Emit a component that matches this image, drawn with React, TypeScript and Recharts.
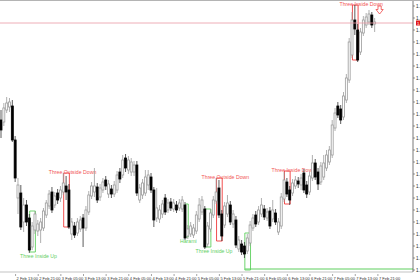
import React from 'react';
import { ComposedChart, Bar, XAxis, YAxis, ReferenceArea, ReferenceLine, ReferenceDot } from 'recharts';

// hourly quotes (oldest first)
const opens = [
  1.1180, 1.1178, 1.1190, 1.1193, 1.1194, 1.1160, 1.1102, 1.1107, 1.1078, 1.1095,
  1.1082, 1.1053, 1.1070, 1.1069, 1.1070, 1.1072, 1.1085, 1.1094, 1.1108, 1.1095,
  1.1107, 1.1102, 1.1108, 1.1114, 1.1110, 1.1066, 1.1074, 1.1067, 1.1071, 1.1082,
  1.1072, 1.1088, 1.1104, 1.1108, 1.1113, 1.1103, 1.1110, 1.1120, 1.1106, 1.1111,
  1.1106, 1.1110, 1.1128, 1.1125, 1.1142, 1.1130, 1.1128, 1.1128, 1.1135, 1.1100,
  1.1105, 1.1107, 1.1115, 1.1123, 1.1110, 1.1082, 1.1081, 1.1086, 1.1102, 1.1090,
  1.1098, 1.1091, 1.1095, 1.1092, 1.1091, 1.1095, 1.1064, 1.1066, 1.1065, 1.1069,
  1.1081, 1.1088, 1.1091, 1.1056, 1.1071, 1.1085, 1.1099, 1.1112, 1.1086, 1.1075,
  1.1086, 1.1095, 1.1076, 1.1080, 1.1051, 1.1056, 1.1054, 1.1049, 1.1057, 1.1072,
  1.1085, 1.1078, 1.1086, 1.1091, 1.1082, 1.1089, 1.1081, 1.1087, 1.1068, 1.1074,
  1.1101, 1.1118, 1.1110, 1.1107, 1.1114, 1.1119, 1.1115, 1.1127, 1.1115, 1.1108,
  1.1122, 1.1137, 1.1128, 1.1118, 1.1123, 1.1132, 1.1138, 1.1145, 1.1172, 1.1194,
  1.1191, 1.1183, 1.1200, 1.1220, 1.1245, 1.1280, 1.1270, 1.1248, 1.1267, 1.1275,
  1.1278, 1.1285, 1.1276,
];
const highs = [
  1.1190, 1.1197, 1.1203, 1.1202, 1.1200, 1.1164, 1.1122, 1.1115, 1.1102, 1.1100,
  1.1086, 1.1078, 1.1089, 1.1080, 1.1082, 1.1092, 1.1100, 1.1110, 1.1113, 1.1108,
  1.1111, 1.1114, 1.1127, 1.1124, 1.1116, 1.1082, 1.1078, 1.1082, 1.1084, 1.1086,
  1.1094, 1.1109, 1.1118, 1.1132, 1.1117, 1.1116, 1.1122, 1.1124, 1.1120, 1.1115,
  1.1119, 1.1129, 1.1132, 1.1145, 1.1146, 1.1144, 1.1142, 1.1139, 1.1139, 1.1116,
  1.1121, 1.1130, 1.1130, 1.1127, 1.1113, 1.1112, 1.1095, 1.1100, 1.1106, 1.1101,
  1.1102, 1.1101, 1.1099, 1.1101, 1.1104, 1.1098, 1.1075, 1.1078, 1.1076, 1.1089,
  1.1102, 1.1104, 1.1094, 1.1078, 1.1091, 1.1104, 1.1122, 1.1120, 1.1090, 1.1098,
  1.1105, 1.1099, 1.1090, 1.1084, 1.1064, 1.1060, 1.1058, 1.1066, 1.1079, 1.1086,
  1.1089, 1.1094, 1.1102, 1.1095, 1.1092, 1.1093, 1.1100, 1.1091, 1.1082, 1.1107,
  1.1128, 1.1122, 1.1114, 1.1121, 1.1124, 1.1123, 1.1126, 1.1131, 1.1119, 1.1128,
  1.1145, 1.1141, 1.1132, 1.1138, 1.1145, 1.1150, 1.1154, 1.1180, 1.1192, 1.1198,
  1.1195, 1.1208, 1.1226, 1.1262, 1.1288, 1.1295, 1.1276, 1.1272, 1.1284, 1.1287,
  1.1290, 1.1288, 1.1282,
];
const lows = [
  1.1162, 1.1174, 1.1187, 1.1188, 1.1158, 1.1118, 1.1086, 1.1070, 1.1068, 1.1074,
  1.1047, 1.1050, 1.1066, 1.1064, 1.1057, 1.1069, 1.1082, 1.1091, 1.1087, 1.1092,
  1.1096, 1.1098, 1.1105, 1.1100, 1.1071, 1.1060, 1.1062, 1.1064, 1.1068, 1.1053,
  1.1069, 1.1085, 1.1101, 1.1103, 1.1097, 1.1099, 1.1107, 1.1110, 1.1102, 1.1102,
  1.1103, 1.1107, 1.1117, 1.1122, 1.1128, 1.1126, 1.1124, 1.1124, 1.1104, 1.1097,
  1.1101, 1.1104, 1.1110, 1.1107, 1.1073, 1.1078, 1.1077, 1.1082, 1.1085, 1.1087,
  1.1089, 1.1088, 1.1087, 1.1089, 1.1088, 1.1060, 1.1061, 1.1063, 1.1062, 1.1066,
  1.1078, 1.1085, 1.1051, 1.1053, 1.1068, 1.1082, 1.1096, 1.1082, 1.1059, 1.1072,
  1.1083, 1.1075, 1.1072, 1.1052, 1.1048, 1.1045, 1.1042, 1.1046, 1.1054, 1.1069,
  1.1073, 1.1075, 1.1083, 1.1080, 1.1079, 1.1071, 1.1078, 1.1075, 1.1065, 1.1071,
  1.1098, 1.1103, 1.1095, 1.1104, 1.1111, 1.1112, 1.1110, 1.1107, 1.1102, 1.1105,
  1.1119, 1.1120, 1.1110, 1.1115, 1.1120, 1.1129, 1.1135, 1.1142, 1.1169, 1.1182,
  1.1176, 1.1180, 1.1197, 1.1217, 1.1242, 1.1265, 1.1238, 1.1245, 1.1264, 1.1272,
  1.1275, 1.1272, 1.1268,
];
const closes = [
  1.1170, 1.1192, 1.1197, 1.1198, 1.1160, 1.1122, 1.1115, 1.1073, 1.1095, 1.1078,
  1.1050, 1.1074, 1.1086, 1.1076, 1.1078, 1.1089, 1.1097, 1.1106, 1.1090, 1.1104,
  1.1100, 1.1110, 1.1117, 1.1108, 1.1073, 1.1078, 1.1065, 1.1078, 1.1080, 1.1072,
  1.1090, 1.1105, 1.1114, 1.1114, 1.1100, 1.1112, 1.1118, 1.1114, 1.1116, 1.1106,
  1.1115, 1.1125, 1.1121, 1.1140, 1.1132, 1.1140, 1.1138, 1.1135, 1.1107, 1.1112,
  1.1117, 1.1123, 1.1125, 1.1110, 1.1080, 1.1092, 1.1090, 1.1096, 1.1088, 1.1097,
  1.1092, 1.1097, 1.1090, 1.1097, 1.1100, 1.1062, 1.1071, 1.1074, 1.1072, 1.1085,
  1.1095, 1.1100, 1.1053, 1.1074, 1.1087, 1.1100, 1.1108, 1.1085, 1.1064, 1.1094,
  1.1097, 1.1078, 1.1086, 1.1055, 1.1060, 1.1048, 1.1046, 1.1062, 1.1075, 1.1082,
  1.1076, 1.1090, 1.1095, 1.1083, 1.1088, 1.1074, 1.1090, 1.1078, 1.1078, 1.1103,
  1.1120, 1.1106, 1.1100, 1.1117, 1.1120, 1.1116, 1.1122, 1.1110, 1.1106, 1.1124,
  1.1137, 1.1123, 1.1116, 1.1134, 1.1137, 1.1145, 1.1150, 1.1175, 1.1187, 1.1185,
  1.1180, 1.1204, 1.1222, 1.1258, 1.1280, 1.1271, 1.1240, 1.1268, 1.1280, 1.1283,
  1.1286, 1.1275, 1.1278,
];

const timeLabels = [
  '2 Feb 13:00', '2 Feb 21:00', '3 Feb 05:00', '3 Feb 13:00', '3 Feb 21:00', '4 Feb 05:00',
  '4 Feb 13:00', '4 Feb 21:00', '5 Feb 05:00', '5 Feb 13:00', '5 Feb 21:00', '6 Feb 05:00',
  '6 Feb 13:00', '6 Feb 21:00', '7 Feb 05:00', '7 Feb 13:00', '7 Feb 21:00',
];
const priceTicks = [
  1.1294, 1.1282, 1.1270, 1.1258, 1.1246, 1.1234, 1.1222, 1.1210, 1.1198, 1.1186, 1.1174, 1.1162,
  1.1150, 1.1138, 1.1126, 1.1114, 1.1102, 1.1090, 1.1078, 1.1066, 1.1054, 1.1042, 1.1030,
];
const bidPrice = 1.1277;

// candle patterns found by the indicator: first/last bar index and the box price range
const patterns = [
  { name: 'Three Inside Up', first: 10, last: 12, top: 1.1089, bottom: 1.1048, bullish: true },
  { name: 'Three Outside Down', first: 22, last: 24, top: 1.1127, bottom: 1.1073, bullish: false },
  { name: 'Harami', first: 65, last: 66, top: 1.1096, bottom: 1.1063, bullish: true },
  { name: 'Three Inside Up', first: 72, last: 74, top: 1.1091, bottom: 1.1053, bullish: true },
  { name: 'Three Outside Down', first: 76, last: 78, top: 1.1122, bottom: 1.1059, bullish: false },
  { name: '', first: 86, last: 88, top: 1.1067, bottom: 1.1030, bullish: true },
  { name: 'Three Inside Down', first: 100, last: 102, top: 1.1129, bottom: 1.1096, bullish: false },
  { name: 'Three Inside Down', first: 124, last: 126, top: 1.1295, bottom: 1.1240, bullish: false },
];

const X_MAX = 145.4;
const FONT = '"Liberation Sans", Arial, sans-serif';
const RED = '#ef3b3b';
const GREEN = '#5fcf5f';

const chartData = opens.map((o, i) => ({
  i,
  range: [lows[i], highs[i]],
  open: o,
  high: highs[i],
  low: lows[i],
  close: closes[i],
}));

const tickIdx = timeLabels.map((_, k) => 5 + k * 8);

const Candle = (props: any) => {
  const { x, y, width, height, payload } = props;
  if (x == null || !payload) return null;
  const top = Math.min(y, y + height);
  const h = Math.abs(height);
  const cx = x + width / 2;
  const { open, close, high, low } = payload;
  const k = h / (high - low);
  const yOf = (p: number) => top + (high - p) * k;
  const up = close >= open;
  const bTop = yOf(Math.max(open, close));
  const bBot = yOf(Math.min(open, close));
  const col = up ? '#9c9c9c' : '#000';
  return (
    <g>
      <line x1={cx} x2={cx} y1={top} y2={top + h} stroke={up ? '#9c9c9c' : '#333'} strokeWidth={0.8} />
      <rect x={cx - 1} y={bTop} width={2} height={Math.max(bBot - bTop, 0.7)} fill={up ? '#fff' : '#000'} stroke={col} strokeWidth={0.8} />
    </g>
  );
};

const TimeTick = (props: any) => {
  const { x, y, payload } = props;
  const k = tickIdx.indexOf(payload.value);
  if (k < 0) return <g />;
  return (
    <g>
      <line x1={x} x2={x} y1={y - 2} y2={y} stroke="#666" strokeWidth={0.6} />
      <text x={x + 1} y={y + 3.5} fontSize={4} fill="#333" fontFamily={FONT} textAnchor="start">
        {timeLabels[k]}
      </text>
    </g>
  );
};

const patternLabel = (p: typeof patterns[number]) => (lp: any) => {
  const vb = lp.viewBox;
  if (!vb || !p.name) return null;
  const cx = vb.x + vb.width / 2 + (p.name.length > 10 ? 6 : 1.5);
  const ty = p.bullish ? vb.y + vb.height + 6 : vb.y + 0.5;
  return (
    <text x={cx} y={ty} fontSize={5.2} fill={p.bullish ? GREEN : '#f25555'} fontFamily={FONT} textAnchor="middle">
      {p.name}
    </text>
  );
};

const bidLabel = (lp: any) => {
  const vb = lp.viewBox;
  if (!vb) return null;
  const x = vb.x + vb.width + 3;
  return (
    <g>
      <rect x={x} y={vb.y - 2.5} width={40} height={5} fill="#e01818" />
      <text x={x + 1} y={vb.y + 1.6} fontSize={4.2} fill="#fff" fontFamily={FONT}>
        {bidPrice.toFixed(5)}
      </text>
    </g>
  );
};

const Arrow = (props: any) => {
  const { cx, cy } = props;
  if (cx == null) return null;
  const d = `M${cx - 1.6},${cy - 4} h3.2 v3.5 h2 L${cx},${cy + 4} L${cx - 3.6},${cy - 0.5} h2 Z`;
  return <path d={d} fill="#fff" stroke="#f04848" strokeWidth={0.8} />;
};

export default function App() {
  return (
    <div style={{ position: 'absolute', left: 0, top: 0, width: 420, height: 280, overflow: 'hidden', background: '#fff' }}>
      <div style={{ height: 1, background: '#b4b4b4' }} />
      <ComposedChart width={460} height={279} data={chartData} margin={{ top: 0, right: 0, bottom: 0, left: 0 }}>
        <XAxis
          dataKey="i"
          type="number"
          domain={[-0.5, X_MAX]}
          allowDataOverflow
          ticks={tickIdx}
          interval={0}
          tick={<TimeTick />}
          tickLine={false}
          tickSize={2}
          height={8}
          axisLine={{ stroke: '#9a9a9a', strokeWidth: 0.6 }}
        />
        <YAxis
          orientation="right"
          type="number"
          domain={[1.1028, 1.1299]}
          allowDataOverflow
          ticks={priceTicks}
          interval={0}
          width={47}
          tickSize={2}
          tickMargin={1}
          tickFormatter={(v: number) => v.toFixed(5)}
          tick={{ fontSize: 4.5, fill: '#222', fontFamily: FONT }}
          tickLine={{ stroke: '#555', strokeWidth: 0.6 }}
          axisLine={{ stroke: '#555', strokeWidth: 0.8 }}
        />
        <ReferenceLine y={bidPrice} stroke="#ea9aa4" strokeWidth={0.8} label={bidLabel} />
        <Bar dataKey="range" barSize={2} shape={<Candle />} isAnimationActive={false} />
        {patterns.map((p, n) => (
          <ReferenceArea
            key={n}
            x1={p.first}
            x2={p.last}
            y1={p.bottom}
            y2={p.top}
            fill="none"
            fillOpacity={0}
            stroke={p.bullish ? GREEN : RED}
            strokeWidth={0.9}
            ifOverflow="visible"
            label={patternLabel(p)}
          />
        ))}
        <ReferenceLine
          segment={[{ x: 86, y: 1.1031 }, { x: X_MAX, y: 1.1031 }]}
          stroke={GREEN}
          strokeWidth={1}
          ifOverflow="visible"
        />
        <ReferenceDot x={133.6} y={1.1290} r={0} shape={<Arrow />} ifOverflow="visible" />
      </ComposedChart>
    </div>
  );
}
